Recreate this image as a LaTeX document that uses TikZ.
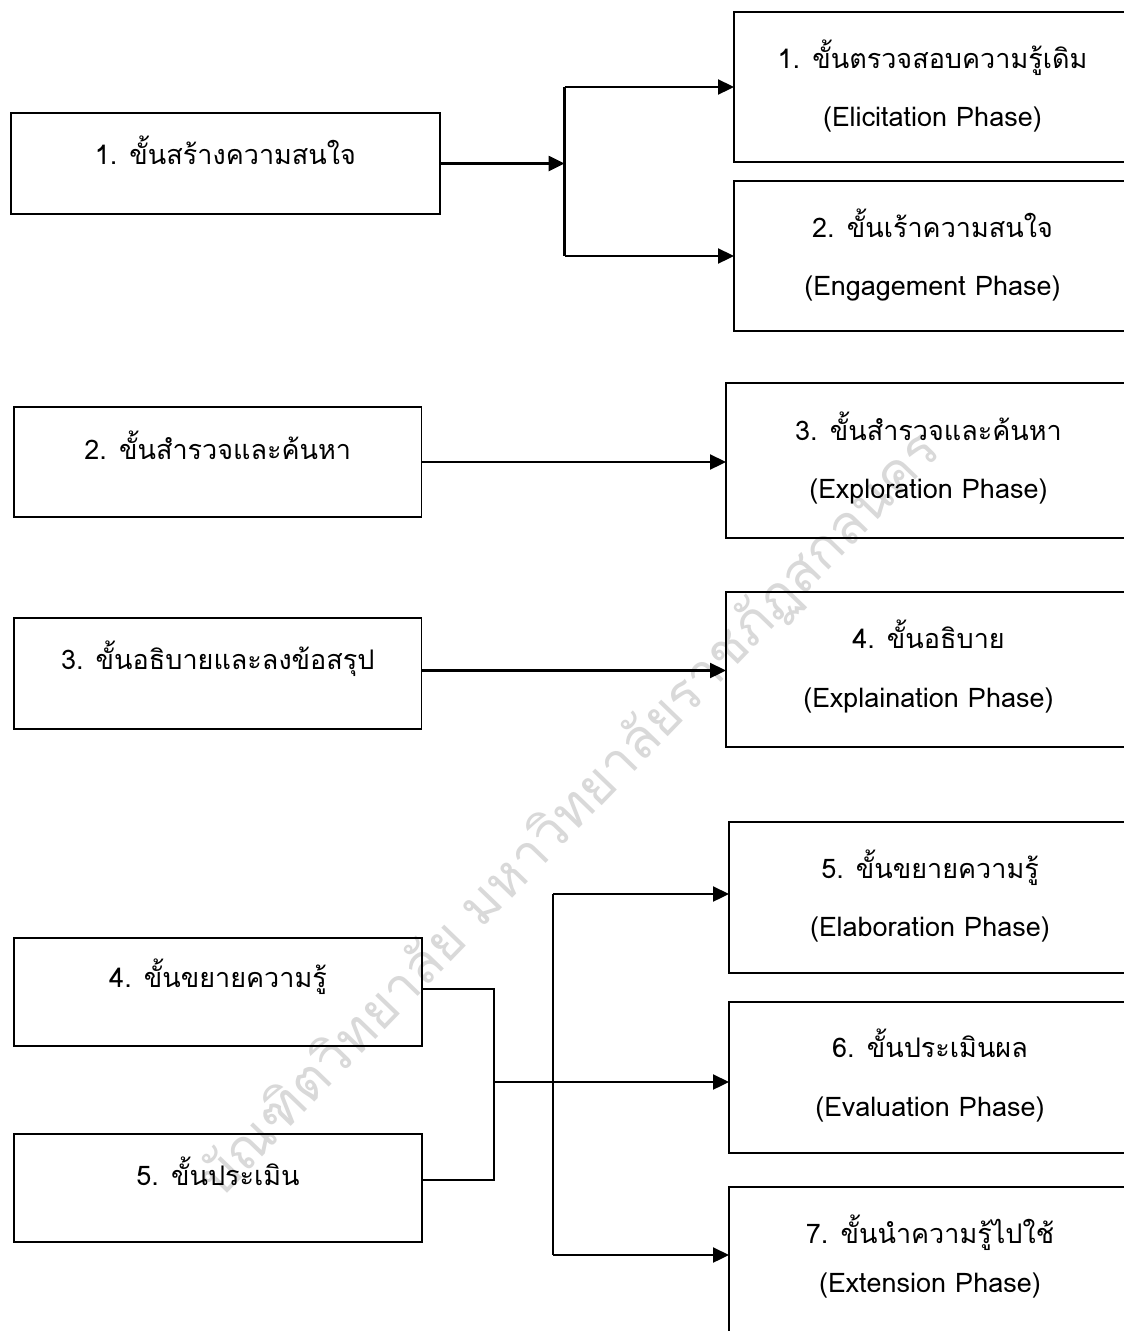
\documentclass[tikz,border=0pt]{standalone}
\usepackage{fontspec}
\newfontfamily\thaifont[Script=Thai]{Loma}
\usetikzlibrary{arrows.meta}
\tikzset{
  box/.style={draw=black, line width=1.6pt, rectangle, inner sep=0pt, outer sep=0pt},
  lbl/.style={font=\thaifont\fontsize{27}{31}\selectfont, inner sep=0pt, anchor=base},
  conn/.style={draw=black, line width=2.3pt},
  arr/.style={conn, -{Triangle[length=16pt,width=15pt]}},
  wm/.style={font=\thaifont\fontsize{54}{60}\selectfont, text=gray!30, inner sep=0pt}
}
\begin{document}
\begin{tikzpicture}[x=1pt,y=-1pt]
\useasboundingbox (0,0) rectangle (1124,1331);
\clip (0,0) rectangle (1124,1331);
\fill[white] (0,0) rectangle (1124,1331);
% watermark
\node[wm, rotate=46] (wmark) at (570,815) {บัณฑิตวิทยาลัย มหาวิทยาลัยราชภัฏสกลนคร};
% left boxes
\node[box, minimum width=429pt, minimum height=101pt] (L1) at (225.35,163.5) {};
\node[box, minimum width=407.5pt, minimum height=110pt] (L2) at (217.75,462) {};
\node[box, minimum width=407.5pt, minimum height=111pt] (L3) at (217.75,673.5) {};
\node[box, minimum width=408pt, minimum height=108pt] (L4) at (218,992) {};
\node[box, minimum width=408pt, minimum height=108pt] (L5) at (218,1188) {};
% right boxes
\node[box, minimum width=397pt, minimum height=150pt] (R1) at (932.5,87) {};
\node[box, minimum width=397pt, minimum height=150pt] (R2) at (932.5,256) {};
\node[box, minimum width=405pt, minimum height=155pt] (R3) at (928.5,460.5) {};
\node[box, minimum width=405pt, minimum height=155pt] (R4) at (928.5,669.5) {};
\node[box, minimum width=402pt, minimum height=151pt] (R5) at (930,897.5) {};
\node[box, minimum width=402pt, minimum height=151pt] (R6) at (930,1077.5) {};
\node[box, minimum width=402pt, minimum height=153pt] (R7) at (930,1263.5) {};
% left texts
\node[lbl] (tL1) at ([yshift=-51pt]L1.north) {1. ขั้นสร้างความสนใจ};
\node[lbl] (tL2) at ([yshift=-52pt]L2.north) {2. ขั้นสำรวจและค้นหา};
\node[lbl] (tL3) at ([yshift=-51pt]L3.north) {3. ขั้นอธิบายและลงข้อสรุป};
\node[lbl] (tL4) at ([yshift=-49pt]L4.north) {4. ขั้นขยายความรู้};
\node[lbl] (tL5) at ([yshift=-51pt]L5.north) {5. ขั้นประเมิน};
% right texts
\node[lbl] (tR1a) at ([yshift=-56pt]R1.north) {1. ขั้นตรวจสอบความรู้เดิม};
\node[lbl] (tR1b) at ([yshift=-114pt]R1.north) {(Elicitation Phase)};
\node[lbl] (tR2a) at ([yshift=-56pt]R2.north) {2. ขั้นเร้าความสนใจ};
\node[lbl] (tR2b) at ([yshift=-114pt]R2.north) {(Engagement Phase)};
\node[lbl] (tR3a) at ([yshift=-57pt]R3.north) {3. ขั้นสำรวจและค้นหา};
\node[lbl] (tR3b) at ([yshift=-115pt]R3.north) {(Exploration Phase)};
\node[lbl] (tR4a) at ([yshift=-56pt]R4.north) {4. ขั้นอธิบาย};
\node[lbl] (tR4b) at ([yshift=-115pt]R4.north) {(Explaination Phase)};
\node[lbl] (tR5a) at ([yshift=-56pt]R5.north) {5. ขั้นขยายความรู้};
\node[lbl] (tR5b) at ([yshift=-114pt]R5.north) {(Elaboration Phase)};
\node[lbl] (tR6a) at ([yshift=-55pt]R6.north) {6. ขั้นประเมินผล};
\node[lbl] (tR6b) at ([yshift=-114pt]R6.north) {(Evaluation Phase)};
\node[lbl] (tR7a) at ([yshift=-56pt]R7.north) {7. ขั้นนำความรู้ไปใช้};
\node[lbl] (tR7b) at ([yshift=-105pt]R7.north) {(Extension Phase)};
% junction coordinates
\coordinate (ja) at (564.6,87);
\coordinate (jb) at (564.6,256);
\coordinate (m1) at (494,989);
\coordinate (m2) at (494,1180);
\coordinate (m)  at (494,1082);
\coordinate (na) at (553,894);
\coordinate (nb) at (553,1255);
% connectors top
\draw[arr] (L1.east) -- (L1.east -| ja);
\draw[conn] (ja) -- (jb);
\draw[arr] (ja) -- (ja -| R1.west);
\draw[arr] (jb) -- (jb -| R2.west);
% middle
\draw[arr] (L2.east) -- (L2.east -| R3.west);
\draw[arr] ([yshift=3pt]L3.east) -- ([yshift=3pt]L3.east -| R4.west);
% bottom
\draw[conn] ([yshift=3pt]L4.east) -- (m1) -- (m2) -- ([yshift=8pt]L5.east);
\draw[arr] (m) -- (m -| R6.west);
\draw[conn] (na) -- (nb);
\draw[arr] (na) -- (na -| R5.west);
\draw[arr] (nb) -- (nb -| R7.west);
\end{tikzpicture}
\end{document}
